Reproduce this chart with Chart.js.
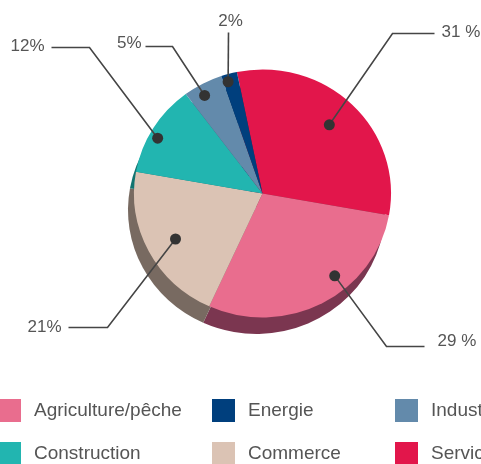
<!DOCTYPE html>
<html lang="fr">
<head>
<meta charset="utf-8">
<title>Répartition par secteur</title>
<script src="https://cdn.jsdelivr.net/npm/chart.js@4.4.1/dist/chart.umd.min.js"></script>
<style>
  html, body { margin: 0; padding: 0; background: #fff; }
  #wrap { position: relative; width: 481px; height: 464px; overflow: hidden; }
</style>
</head>
<body>
<div id="wrap"><canvas id="chart"></canvas></div>
<script>
// Secteurs dans l'ordre du camembert (sens horaire)
const sectors = ['Services', 'Agriculture/pêche', 'Commerce', 'Construction', 'Industrie', 'Energie'];
const shares = [31, 29, 21, 12, 5, 2];
const shareLabels = ['31 %', '29 %', '21%', '12%', '5%', '2%'];
// Ordre de la légende (3 colonnes, 2 lignes)
const legendOrder = ['Agriculture/pêche', 'Energie', 'Industrie', 'Construction', 'Commerce', 'Services'];

const colors = ['#e2164b', '#e96d8e', '#dbc3b4', '#22b5b0', '#638aab', '#003f7d'];
const shadowColors = ['#7c1532', '#7b3650', '#786a61', '#137470', '#3d5a75', '#002650'];

// Légère inclinaison du disque (vue en perspective)
const TILT = 0.965;

// Position des étiquettes par rapport au centre du camembert
// t = position dans la part, f = fraction du rayon pour le point
const callouts = [
    { t: 0.49, f: 0.76, ex: 130, ey: -160, lx: 172, tx: 179, ty: -161, align: 'left' },
    { t: 0.38, f: 0.87, ex: 124, ey: 153, lx: 162, tx: 175, ty: 148, align: 'left' },
    { t: 0.49, f: 0.77, ex: -155, ey: 134, lx: -194, tx: -201, ty: 134, align: 'right' },
    { t: 0.43, f: 0.93, ex: -173, ey: -146, lx: -211, tx: -218, ty: -147, align: 'right' },
    { t: 0.39, f: 0.91, ex: -90, ey: -147, lx: -117, tx: -121, ty: -150, align: 'right' },
    { t: 0.30, f: 0.94, ex: -34, ey: -161, lx: -34, tx: -32, ty: -172, align: 'center' }
];

const legendCols = [-2, 212, 395];
const legendRows = [399, 442];
const FONT = '"Liberation Sans", Arial, sans-serif';

/**
 * Ombre décalée sous le camembert (effet relief) + inclinaison
 */
const pieShadow = {
    id: 'pieShadow',
    beforeDatasetsDraw(chart) {
        const ctx = chart.ctx;
        const meta = chart.getDatasetMeta(0);
        const cx = meta.data[0].x;
        const cy = meta.data[0].y;
        // la transformation reste active pour le dessin des parts
        ctx.save();
        ctx.translate(cx, cy);
        ctx.scale(1, TILT);
        ctx.translate(-cx, -cy);
        meta.data.forEach((arc, i) => {
            const x = arc.x - 6;
            const y = arc.y + 17;
            ctx.beginPath();
            ctx.moveTo(x, y);
            ctx.arc(x, y, arc.outerRadius, arc.startAngle, arc.endAngle);
            ctx.closePath();
            ctx.fillStyle = shadowColors[i];
            ctx.fill();
        });
    },
    afterDatasetsDraw(chart) {
        chart.ctx.restore();
    }
};

/**
 * Points, traits de rappel et pourcentages
 */
const pieCallouts = {
    id: 'pieCallouts',
    afterDatasetsDraw(chart) {
        const ctx = chart.ctx;
        const meta = chart.getDatasetMeta(0);
        ctx.save();
        meta.data.forEach((arc, i) => {
            const c = callouts[i];
            const a = arc.startAngle + c.t * (arc.endAngle - arc.startAngle);
            const px = arc.x + Math.cos(a) * arc.outerRadius * c.f;
            const py = arc.y + Math.sin(a) * arc.outerRadius * c.f * TILT;

            ctx.strokeStyle = '#454545';
            ctx.lineWidth = 1.6;
            ctx.beginPath();
            ctx.moveTo(px, py);
            ctx.lineTo(arc.x + c.ex, arc.y + c.ey);
            ctx.lineTo(arc.x + c.lx, arc.y + c.ey);
            ctx.stroke();

            ctx.fillStyle = '#333';
            ctx.beginPath();
            ctx.arc(px, py, 5.5, 0, Math.PI * 2);
            ctx.fill();

            ctx.fillStyle = '#555';
            ctx.font = '17px ' + FONT;
            ctx.textAlign = c.align;
            ctx.textBaseline = 'middle';
            ctx.fillText(shareLabels[i], arc.x + c.tx, arc.y + c.ty);
        });
        ctx.restore();
    }
};

/**
 * Légende en grille sous le graphique
 */
const gridLegend = {
    id: 'gridLegend',
    afterDraw(chart) {
        const ctx = chart.ctx;
        ctx.save();
        ctx.font = '19px ' + FONT;
        ctx.textBaseline = 'middle';
        ctx.textAlign = 'left';
        legendOrder.forEach((name, k) => {
            const idx = sectors.indexOf(name);
            const x = legendCols[k % 3];
            const y = legendRows[Math.floor(k / 3)];
            ctx.fillStyle = colors[idx];
            ctx.fillRect(x, y, 23, 23);
            ctx.fillStyle = '#555';
            ctx.fillText(name, x + 36, y + 12);
        });
        ctx.restore();
    }
};

new Chart(document.getElementById('chart'), {
    type: 'pie',
    data: {
        labels: sectors,
        datasets: [{
            data: shares,
            backgroundColor: colors,
            borderWidth: 0,
            hoverOffset: 0
        }]
    },
    options: {
        responsive: true,
        maintainAspectRatio: false,
        animation: false,
        rotation: -11.5,
        layout: {
            padding: { left: 134, right: 90, top: 65, bottom: 142 }
        },
        plugins: {
            legend: { display: false },
            tooltip: { enabled: false }
        }
    },
    plugins: [pieShadow, pieCallouts, gridLegend]
});
</script>
</body>
</html>
